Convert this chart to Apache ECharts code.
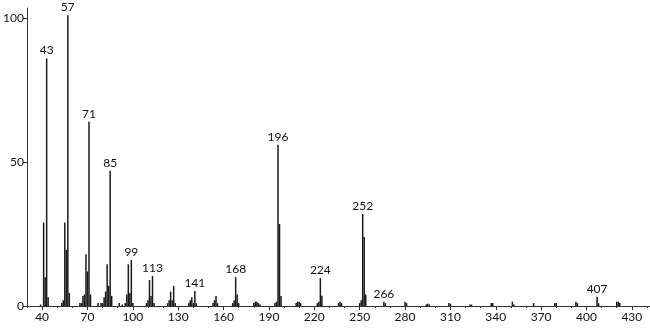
<!DOCTYPE html>
<html><head><meta charset="utf-8">
<script src="https://cdn.jsdelivr.net/npm/echarts@6/dist/echarts.min.js"></script>
<style>html,body{margin:0;padding:0;background:#fff}#c{width:650px;height:328px}</style>
</head><body><div id="c"></div>
<script>
const mzValues = [39,41,42,43,44,53,54,55,56,57,58,65,66,67,68,69,70,71,72,77,79,80,81,82,83,84,85,86,91,93,95,96,97,98,99,100,
  109,110,111,112,113,114,123,124,125,126,127,128,137,138,139,140,141,142,153,154,155,156,166,167,168,169,170,
  180,181,182,183,184,194,195,196,197,198,208,209,210,211,222,223,224,225,236,237,238,250,251,252,253,254,
  266,267,280,281,294,295,296,309,310,323,324,337,338,351,352,365,379,380,393,394,407,408,420,421,422];
const intensities = [0.5,29,10,86,3,1,2,29,19.5,101,4.5,1,1,3.5,4,18,12,64,4,1,1,1,3,5,14.5,7,47,3.5,1,0.5,1,4,14.5,4.5,16,1,
  1,2,9,3.5,10.4,1,1,2,5,2,7,1,1,2,3,1,5.2,1,1,2,3.5,1,1,2,10,4,1,
  1,1.5,1.5,1,0.5,1,1.5,56,28.5,3.5,1,1.5,1.5,1,1,1.5,9.7,3.6,1,1.5,1,1,2,32,24,4,
  1.5,1,1.5,1,0.5,0.8,0.5,1,0.8,0.5,0.5,1,1,1.5,0.5,1,1,1,1.5,1,3.2,1,1.5,1.5,1];
const labeledPeaks = [43,57,71,85,99,113,141,168,196,224,252,266,407];
const xTickLabels = [40,70,100,130,160,190,220,250,280,310,340,370,400,430];
const yTickLabels = [0,50,100];

const font = 'Lato';
const seriesData = mzValues.map((m,i)=>{
  const item = {value:[m,intensities[i]]};
  if (labeledPeaks.includes(m)) item.label = {show:true};
  return item;
});
const chart = echarts.init(document.getElementById('c'));
chart.setOption({
  animation:false,
  grid:{left:27,right:0,top:8,bottom:22,containLabel:false},
  xAxis:[{
    type:'value',min:30,max:442,
    axisLine:{show:true,onZero:false,lineStyle:{color:'#333',width:1}},
    axisTick:{show:true,length:4,customValues:xTickLabels,lineStyle:{color:'#333'}},
    axisLabel:{customValues:xTickLabels,color:'#111',fontSize:12,fontFamily:font,margin:5},
    splitLine:{show:false}
  },{
    type:'value',min:30,max:442,interval:10,position:'bottom',
    axisLine:{show:false},
    axisTick:{show:true,length:2,lineStyle:{color:'#333'}},
    axisLabel:{show:false},splitLine:{show:false}
  }],
  yAxis:{
    type:'value',min:0,max:103.5,
    axisLine:{show:true,lineStyle:{color:'#333',width:1}},
    axisTick:{show:true,length:4,customValues:yTickLabels,lineStyle:{color:'#333'}},
    axisLabel:{customValues:yTickLabels,color:'#111',fontSize:12,fontFamily:font,margin:3},
    splitLine:{show:false}
  },
  series:[{
    type:'bar',xAxisIndex:0,barWidth:1.5,
    itemStyle:{color:'#1a1a1a'},
    label:{show:false,position:'top',distance:2,color:'#111',fontSize:12,fontFamily:font,
      formatter:p=>String(p.value[0])},
    data:seriesData
  }]
});
</script></body></html>
